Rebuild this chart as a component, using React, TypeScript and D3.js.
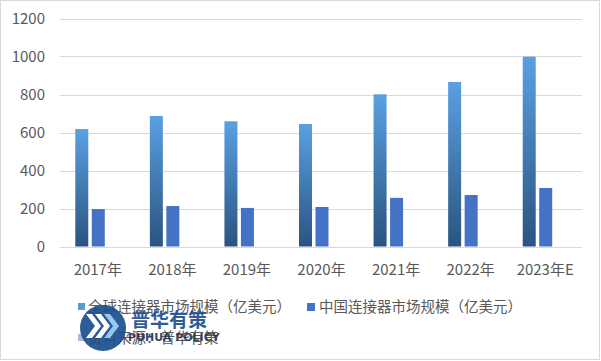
import React from "react";
import * as d3 from "d3";

const categories = ["2017年", "2018年", "2019年", "2020年", "2021年", "2022年", "2023年E"];
const globalValues = [618, 687, 659, 645, 801, 866, 999];
const chinaValues = [197, 213, 203, 208, 256, 271, 308];
const yTicks = [0, 200, 400, 600, 800, 1000, 1200];
const seriesNames = ["全球连接器市场规模（亿美元）", "中国连接器市场规模（亿美元）", "资料来源：普华有策"];

const W = 601;
const H = 361;
const FONT = "'Noto Sans CJK SC', 'Microsoft YaHei', sans-serif";

export default function App() {
  const x = d3.scaleBand<string>().domain(categories).range([60.5, 582.5]).paddingInner(0).paddingOuter(0);
  const y = d3.scaleLinear().domain([0, 1200]).range([246.5, 18.5]);
  const s = d3.scaleBand<string>().domain(["g", "c", "s"]).range([-22.5, 23.5]).paddingInner(0.212);
  const bw = s.bandwidth();

  return (
    <svg width={W} height={H} style={{ position: "absolute", left: 0, top: 0 }} fontFamily={FONT}>
      <defs>
        <linearGradient id="gGrad" x1="0" y1="0" x2="0" y2="1">
          <stop offset="0%" stopColor="#5aa0e2" />
          <stop offset="100%" stopColor="#2a5480" />
        </linearGradient>
      </defs>
      <rect x={0} y={0} width={W} height={H} fill="#ffffff" />
      <rect x={0.5} y={0.5} width={599} height={359} fill="none" stroke="#d9d9d9" />
      {yTicks.map((t) => (
        <g key={t}>
          <line x1={60} x2={582} y1={Math.round(y(t)) + 0.5} y2={Math.round(y(t)) + 0.5} stroke="#d9d9d9" strokeWidth={1} />
          <text x={45} y={y(t)} dy="0.35em" textAnchor="end" fontSize={15} fill="#595959">
            {t}
          </text>
        </g>
      ))}
      {categories.map((c, i) => {
        const cx = (x(c) as number) + x.bandwidth() / 2;
        return (
          <g key={c}>
            <rect x={cx + (s("g") as number)} y={y(globalValues[i])} width={bw} height={y(0) - y(globalValues[i])} fill="url(#gGrad)" />
            <rect x={cx + (s("c") as number)} y={y(chinaValues[i])} width={bw} height={y(0) - y(chinaValues[i])} fill="#4472c4" />
            <text x={cx} y={270} dy="0.35em" textAnchor="middle" fontSize={15} fill="#595959">
              {c}
            </text>
          </g>
        );
      })}
      {/* legend */}
      <g fontSize={14.5} fill="#595959">
        <rect x={78} y={303} width={7} height={7} fill="#5b9bd5" />
        <text x={88} y={307} dy="0.35em">{seriesNames[0]}</text>
        <rect x={307} y={303} width={8} height={8} fill="#4472c4" />
        <text x={319} y={307} dy="0.35em">{seriesNames[1]}</text>
        <rect x={78} y={334} width={7} height={7} fill="#a9b8dc" />
        <text x={88} y={338} dy="0.35em">{seriesNames[2]}</text>
      </g>
      {/* watermark logo */}
      <g opacity={0.92}>
        <circle cx={103} cy={328} r={23} fill="#1d4f8f" />
        {[0, 1, 2].map((k) => (
          <path
            key={k}
            d={`M${86 + k * 9},${314} l9,12 l-9,12 l6,0 l9,-12 l-9,-12 z`}
            fill={k === 2 ? "#8ec6ee" : "#ffffff"}
          />
        ))}
        <text x={131} y={320} dy="0.35em" fontSize={19} fontWeight="bold" fill="#1d4f8f">普华有策</text>
        <text x={128} y={337} dy="0.35em" fontSize={11} fontWeight="bold" fill="#2a3550" fontFamily="'DejaVu Sans', sans-serif">PUHUA POLICY</text>
      </g>
    </svg>
  );
}
